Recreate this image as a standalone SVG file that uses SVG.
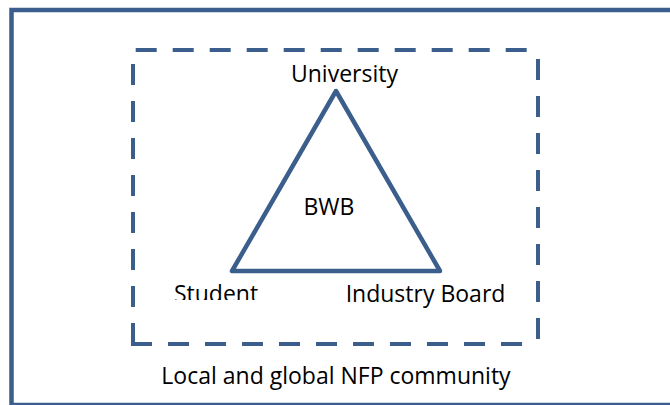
<svg xmlns="http://www.w3.org/2000/svg" width="670" height="405" viewBox="0 0 670 405">
  <style>
    .frame { fill: none; stroke: #3B5E8C; stroke-width: 4.5; }
    .scope { fill: none; stroke: #3B5E8C; stroke-width: 4; stroke-dasharray: 21 16; }
    .edge { fill: none; stroke: #3B5E8C; stroke-width: 4.5; stroke-linejoin: round; stroke-linecap: round; }
    .label { font-family: "Open Sans", "Noto Sans", sans-serif; font-size: 23px; fill: #000; text-anchor: middle; }
  </style>
  <defs>
    <clipPath id="studentClip">
      <rect x="150" y="270" width="140" height="30"/>
    </clipPath>
  </defs>
  <rect width="670" height="405" fill="#ffffff"/>

  <!-- outer community frame -->
  <g id="community">
    <rect class="frame" x="11.5" y="10" width="700" height="395"/>
    <text class="label" x="336" y="384">Local and global NFP community</text>
  </g>

  <!-- dashed BWB scope boundary, one dashed run per side -->
  <g id="scope">
    <path class="scope" d="M135.7,50 H529"/>
    <path class="scope" d="M538,59 V341"/>
    <path class="scope" d="M131,344 H529" stroke-dasharray="21.5 16"/>
    <path class="scope" d="M133,344 V62"/>
  </g>

  <!-- triangle connecting the three partners -->
  <g id="connectors">
    <polygon class="edge" points="336,91 232,271 440,271"/>
  </g>

  <g id="bwb">
    <text class="label" x="329" y="215">BWB</text>
  </g>
  <g id="university">
    <text class="label" x="344.5" y="81.5">University</text>
  </g>
  <g id="student">
    <text class="label" x="216" y="302" clip-path="url(#studentClip)">Student</text>
  </g>
  <g id="industry-board">
    <text class="label" x="425.5" y="301.5">Industry Board</text>
  </g>
</svg>
